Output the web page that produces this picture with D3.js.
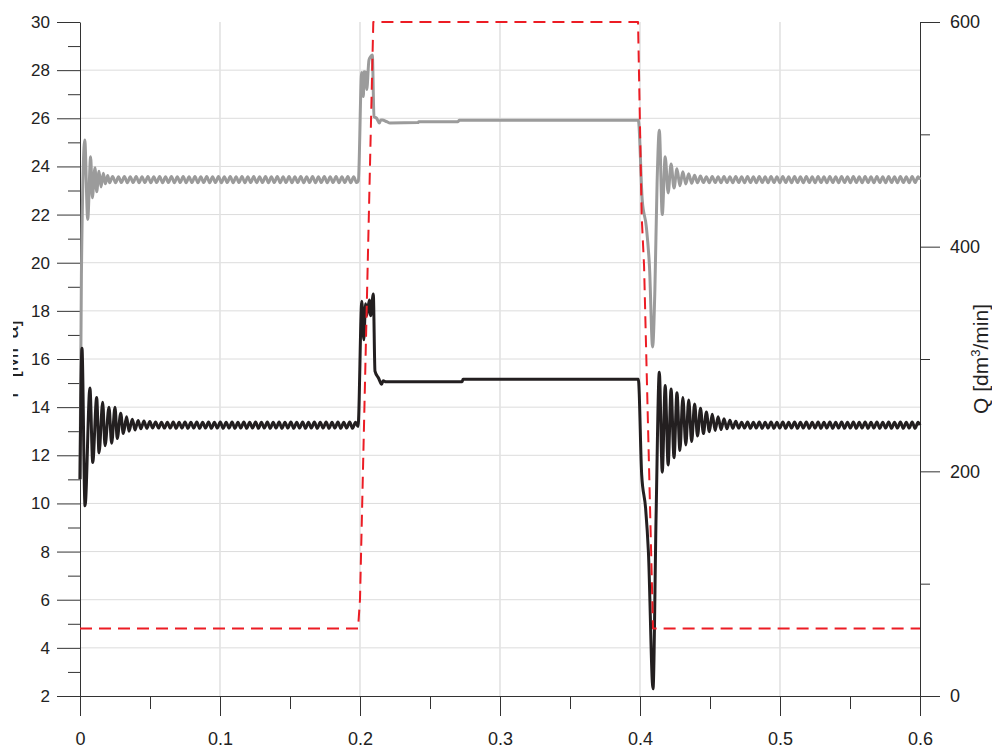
<!DOCTYPE html>
<html>
<head>
<meta charset="utf-8">
<script src="https://cdn.jsdelivr.net/npm/d3@7"></script>
<style>
  body { margin: 0; background: #fff; }
  svg { display: block; }
  .grid line { stroke: #dcdcdc; stroke-width: 1; }
  .grid.vert line { stroke: #e2e2e2; stroke-width: 1.6; }
  .axis path, .axis line { stroke: #333; }
  .axis text { fill: #222; }
  .line { fill: none; stroke-linejoin: round; }
</style>
</head>
<body>
<svg width="992" height="752"></svg>
<script>
// tick values
var tTicks = [0, 0.1, 0.2, 0.3, 0.4, 0.5, 0.6],
    tMinor = [0.05, 0.15, 0.25, 0.35, 0.45, 0.55],
    pTicks = [2, 4, 6, 8, 10, 12, 14, 16, 18, 20, 22, 24, 26, 28, 30],
    pMinor = [3, 5, 7, 9, 11, 13, 15, 17, 19, 21, 23, 25, 27, 29],
    pGrid = [4, 6, 8, 10, 12, 14, 16, 18, 20, 22, 24, 26, 28],
    qTicks = [0, 200, 400, 600],
    qMinor = [100, 300, 500];

// upper pressure (grey), [t s, P MPa]
var pUpper = [
  [0.0000,11.0],[0.0010,19.5],[0.0034,25.1],[0.0055,21.8],[0.0076,24.4],[0.0088,22.7],[0.0107,23.95],
  [0.0119,22.95],[0.0136,23.8],[0.0150,23.15],[0.0167,23.72],[0.0181,23.28],[0.0198,23.62],[0.0212,23.32],
  [0.0233,23.58],[0.0254,23.32],[0.0275,23.57],[0.0296,23.33],[0.0317,23.58],[0.0338,23.32],[0.0359,23.57],[0.0380,23.33],[0.0401,23.58],[0.0422,23.32],
  [0.0443,23.57],[0.0464,23.33],[0.0485,23.58],[0.0506,23.32],[0.0527,23.57],[0.0548,23.33],[0.0569,23.58],[0.0590,23.32],[0.0611,23.57],[0.0632,23.33],
  [0.0653,23.58],[0.0674,23.32],[0.0695,23.57],[0.0716,23.33],[0.0737,23.58],[0.0758,23.32],[0.0779,23.57],[0.0800,23.33],[0.0821,23.58],[0.0842,23.32],
  [0.0863,23.57],[0.0884,23.33],[0.0905,23.58],[0.0926,23.32],[0.0947,23.57],[0.0968,23.33],[0.0989,23.58],[0.1010,23.32],[0.1031,23.57],[0.1052,23.33],
  [0.1073,23.58],[0.1094,23.32],[0.1115,23.57],[0.1136,23.33],[0.1157,23.58],[0.1178,23.32],[0.1199,23.57],[0.1220,23.33],[0.1241,23.58],[0.1262,23.32],
  [0.1283,23.57],[0.1304,23.33],[0.1325,23.58],[0.1346,23.32],[0.1367,23.57],[0.1388,23.33],[0.1409,23.58],[0.1430,23.32],[0.1451,23.57],[0.1472,23.33],
  [0.1493,23.58],[0.1514,23.32],[0.1535,23.57],[0.1556,23.33],[0.1577,23.58],[0.1598,23.32],[0.1619,23.57],[0.1640,23.33],[0.1661,23.58],[0.1682,23.32],
  [0.1703,23.57],[0.1724,23.33],[0.1745,23.58],[0.1766,23.32],[0.1787,23.57],[0.1808,23.33],[0.1829,23.58],[0.1850,23.32],[0.1871,23.57],[0.1892,23.33],
  [0.1913,23.58],[0.1934,23.32],[0.1955,23.57],[0.1976,23.33],
  [0.1988,23.4],[0.2012,27.9],[0.2024,26.9],[0.2029,27.93],[0.2043,27.9],[0.2048,27.2],[0.2064,28.42],[0.2076,28.56],
  [0.2088,28.63],[0.2100,26.07],[0.2119,26.0],[0.2138,25.8],[0.2148,25.93],[0.2159,25.93],[0.2191,25.86],[0.2214,25.8],
  [0.2414,25.82],[0.2420,25.86],[0.2700,25.86],[0.2710,25.92],[0.3988,25.92],
  [0.4016,22.6],[0.4045,21.5],[0.4068,19.8],[0.4090,16.5],[0.4106,18.8],[0.4122,23.3],[0.4138,25.5],[0.4159,22.0],
  [0.4180,24.4],[0.4201,22.9],[0.4222,24.1],[0.4243,23.1],[0.4264,23.9],[0.4285,23.2],[0.4306,23.78],[0.4327,23.27],
  [0.4348,23.7],[0.4369,23.3],[0.4390,23.63],[0.4411,23.32],[0.4432,23.6],
  [0.4453,23.33],[0.4474,23.57],[0.4495,23.32],[0.4516,23.58],[0.4537,23.33],[0.4558,23.57],
  [0.4579,23.32],[0.4600,23.58],[0.4621,23.33],[0.4642,23.57],[0.4663,23.32],[0.4684,23.58],[0.4705,23.33],[0.4726,23.57],[0.4747,23.32],[0.4768,23.58],
  [0.4789,23.33],[0.4810,23.57],[0.4831,23.32],[0.4852,23.58],[0.4873,23.33],[0.4894,23.57],[0.4915,23.32],[0.4936,23.58],[0.4957,23.33],[0.4978,23.57],
  [0.4999,23.32],[0.5020,23.58],[0.5041,23.33],[0.5062,23.57],[0.5083,23.32],[0.5104,23.58],[0.5125,23.33],[0.5146,23.57],[0.5167,23.32],[0.5188,23.58],
  [0.5209,23.33],[0.5230,23.57],[0.5251,23.32],[0.5272,23.58],[0.5293,23.33],[0.5314,23.57],[0.5335,23.32],[0.5356,23.58],[0.5377,23.33],[0.5398,23.57],
  [0.5419,23.32],[0.5440,23.58],[0.5461,23.33],[0.5482,23.57],[0.5503,23.32],[0.5524,23.58],[0.5545,23.33],[0.5566,23.57],[0.5587,23.32],[0.5608,23.58],
  [0.5629,23.33],[0.5650,23.57],[0.5671,23.32],[0.5692,23.58],[0.5713,23.33],[0.5734,23.57],[0.5755,23.32],[0.5776,23.58],[0.5797,23.33],[0.5818,23.57],
  [0.5839,23.32],[0.5860,23.58],[0.5881,23.33],[0.5902,23.57],[0.5923,23.32],[0.5944,23.58],[0.5965,23.33],[0.5986,23.57],[0.6000,23.45]
];

// lower pressure (black), [t s, P MPa]
var pLower = [
  [0.0000,11.0],[0.0014,16.45],[0.0036,9.9],[0.0071,14.8],[0.0091,11.7],[0.0119,14.4],[0.0136,12.1],[0.0162,14.2],
  [0.0179,12.4],[0.0207,14.0],[0.0226,12.5],[0.0250,14.0],[0.0266,12.7],[0.0291,13.75],[0.0309,12.9],[0.0333,13.6],
  [0.0350,13.0],[0.0374,13.5],[0.0393,13.05],[0.0415,13.45],[0.0435,13.1],[0.0457,13.42],[0.0477,13.12],[0.0499,13.4],
  [0.0519,13.13],[0.0540,13.38],[0.0561,13.13],
  [0.0582,13.37],[0.0603,13.13],[0.0624,13.37],[0.0645,13.13],[0.0666,13.38],[0.0687,13.12],[0.0708,13.37],[0.0729,13.13],[0.0750,13.38],[0.0771,13.12],
  [0.0792,13.37],[0.0813,13.13],[0.0834,13.38],[0.0855,13.12],[0.0876,13.37],[0.0897,13.13],[0.0918,13.38],[0.0939,13.12],[0.0960,13.37],[0.0981,13.13],
  [0.1002,13.38],[0.1023,13.12],[0.1044,13.37],[0.1065,13.13],[0.1086,13.38],[0.1107,13.12],[0.1128,13.37],[0.1149,13.13],[0.1170,13.38],[0.1191,13.12],
  [0.1212,13.37],[0.1233,13.13],[0.1254,13.38],[0.1275,13.12],[0.1296,13.37],[0.1317,13.13],[0.1338,13.38],[0.1359,13.12],[0.1380,13.37],[0.1401,13.13],
  [0.1422,13.38],[0.1443,13.12],[0.1464,13.37],[0.1485,13.13],[0.1506,13.38],[0.1527,13.12],[0.1548,13.37],[0.1569,13.13],[0.1590,13.38],[0.1611,13.12],
  [0.1632,13.37],[0.1653,13.13],[0.1674,13.38],[0.1695,13.12],[0.1716,13.37],[0.1737,13.13],[0.1758,13.38],[0.1779,13.12],[0.1800,13.37],[0.1821,13.13],
  [0.1842,13.38],[0.1863,13.12],[0.1884,13.37],[0.1905,13.13],[0.1926,13.38],[0.1947,13.12],[0.1968,13.37],
  [0.1986,13.2],[0.2013,18.4],[0.2027,16.8],[0.2040,18.3],[0.2048,17.8],[0.2067,18.45],[0.2076,17.8],[0.2095,18.7],
  [0.2107,15.5],[0.2133,15.2],[0.2155,14.95],[0.2165,15.1],[0.2185,15.05],[0.2730,15.06],[0.2736,15.16],[0.3988,15.16],
  [0.4012,11.2],[0.4040,9.8],[0.4060,8.0],[0.4093,2.3],[0.4115,9.5],[0.4138,15.45],[0.4159,11.3],[0.4180,14.9],
  [0.4201,11.6],[0.4222,14.75],[0.4243,11.9],[0.4264,14.6],[0.4285,12.2],[0.4306,14.4],[0.4327,12.43],[0.4348,14.3],
  [0.4369,12.57],[0.4390,14.13],[0.4411,12.8],[0.4432,13.95],[0.4453,12.9],[0.4474,13.8],[0.4495,12.98],[0.4516,13.7],
  [0.4537,13.03],[0.4558,13.6],[0.4579,13.07],[0.4600,13.52],[0.4621,13.1],[0.4642,13.46],[0.4663,13.12],[0.4684,13.41],[0.4705,13.13],
  [0.4726,13.37],[0.4747,13.13],[0.4768,13.38],[0.4789,13.12],[0.4810,13.37],[0.4831,13.13],[0.4852,13.38],[0.4873,13.12],[0.4894,13.37],[0.4915,13.13],
  [0.4936,13.38],[0.4957,13.12],[0.4978,13.37],[0.4999,13.13],[0.5020,13.38],[0.5041,13.12],[0.5062,13.37],[0.5083,13.13],[0.5104,13.38],[0.5125,13.12],
  [0.5146,13.37],[0.5167,13.13],[0.5188,13.38],[0.5209,13.12],[0.5230,13.37],[0.5251,13.13],[0.5272,13.38],[0.5293,13.12],[0.5314,13.37],[0.5335,13.13],
  [0.5356,13.38],[0.5377,13.12],[0.5398,13.37],[0.5419,13.13],[0.5440,13.38],[0.5461,13.12],[0.5482,13.37],[0.5503,13.13],[0.5524,13.38],[0.5545,13.12],
  [0.5566,13.37],[0.5587,13.13],[0.5608,13.38],[0.5629,13.12],[0.5650,13.37],[0.5671,13.13],[0.5692,13.38],[0.5713,13.12],[0.5734,13.37],[0.5755,13.13],
  [0.5776,13.38],[0.5797,13.12],[0.5818,13.37],[0.5839,13.13],[0.5860,13.38],[0.5881,13.12],[0.5902,13.37],[0.5923,13.13],[0.5944,13.38],[0.5965,13.12],
  [0.5986,13.37],[0.6000,13.25]
];

// flow rate (red dashed, right axis), [t s, Q dm3/min]
var flowQ = [
  [0.0000,60],[0.1986,60],[0.2000,86],[0.2095,600],[0.3986,600],
  [0.4012,427],[0.4029,383],[0.4093,60],[0.6000,60]
];

var svg = d3.select("svg"),
    margin = {top: 22, right: 72, bottom: 56, left: 80},
    width = +svg.attr("width") - margin.left - margin.right,
    height = +svg.attr("height") - margin.top - margin.bottom,
    g = svg.append("g").attr("transform", "translate(" + margin.left + "," + margin.top + ")");

var x = d3.scaleLinear().domain([0, 0.6]).range([0, width]),
    y = d3.scaleLinear().domain([2, 30]).range([height, 0]),
    yQ = d3.scaleLinear().domain([0, 600]).range([height, 0]);

var font = "'Liberation Sans', Arial, sans-serif",
    narrow = "'Liberation Sans Narrow', 'Arial Narrow', 'Liberation Sans', sans-serif";

// grid
g.append("g").attr("class", "grid")
  .selectAll("line").data(pGrid).enter().append("line")
    .attr("x1", 0).attr("x2", width)
    .attr("y1", function(d) { return y(d); })
    .attr("y2", function(d) { return y(d); });

g.append("g").attr("class", "grid vert")
  .selectAll("line").data(tTicks.slice(1, -1)).enter().append("line")
    .attr("y1", 0).attr("y2", height)
    .attr("x1", function(d) { return x(d); })
    .attr("x2", function(d) { return x(d); });

// left axis
g.append("g").attr("class", "axis")
    .call(d3.axisLeft(y).tickValues(pMinor).tickSize(12).tickSizeOuter(0).tickFormat(""))
    .select(".domain").remove();
g.append("g").attr("class", "axis")
    .call(d3.axisLeft(y).tickValues(pTicks).tickSize(23).tickSizeOuter(0).tickPadding(7))
    .attr("font-family", font).attr("font-size", 17);

// bottom axis
g.append("g").attr("class", "axis")
    .attr("transform", "translate(0," + height + ")")
    .call(d3.axisBottom(x).tickValues(tMinor).tickSize(13).tickSizeOuter(0).tickFormat(""))
    .select(".domain").remove();
g.append("g").attr("class", "axis")
    .attr("transform", "translate(0," + height + ")")
    .call(d3.axisBottom(x).tickValues(tTicks).tickSize(20).tickSizeOuter(0).tickPadding(16)
      .tickFormat(function(d) { return String(d); }))
    .attr("font-family", narrow).attr("font-size", 18);

// right axis
g.append("g").attr("class", "axis")
    .attr("transform", "translate(" + width + ",0)")
    .call(d3.axisRight(yQ).tickValues(qMinor).tickSize(10).tickSizeOuter(0).tickFormat(""))
    .select(".domain").remove();
g.append("g").attr("class", "axis")
    .attr("transform", "translate(" + width + ",0)")
    .call(d3.axisRight(yQ).tickValues(qTicks).tickSize(20).tickSizeOuter(0).tickPadding(10))
    .attr("font-family", font).attr("font-size", 18);

// axis titles (left one is cut at the page edge, as in the source figure)
svg.append("clipPath").attr("id", "leftclip")
  .append("rect").attr("x", 13).attr("y", 0).attr("width", 60).attr("height", 752);

svg.append("g").attr("clip-path", "url(#leftclip)")
  .append("text")
    .attr("transform", "translate(18," + (margin.top + height / 2) + ") rotate(-90)")
    .attr("text-anchor", "middle")
    .attr("font-family", font).attr("font-size", 22).attr("fill", "#222")
    .text("P [MPa]");

var qLabel = svg.append("text")
    .attr("transform", "translate(988," + (margin.top + height / 2) + ") rotate(-90)")
    .attr("text-anchor", "middle")
    .attr("font-family", font).attr("font-size", 21).attr("fill", "#222");
qLabel.append("tspan").text("Q [dm");
qLabel.append("tspan").attr("font-size", 13).attr("dy", -8).text("3");
qLabel.append("tspan").attr("dy", 8).text("/min]");

// series
var line = d3.line()
    .curve(d3.curveMonotoneX)
    .x(function(d) { return x(d[0]); })
    .y(function(d) { return y(d[1]); });

var lineQ = d3.line()
    .x(function(d) { return x(d[0]); })
    .y(function(d) { return yQ(d[1]); });

g.append("path").datum(pUpper)
    .attr("class", "line")
    .attr("stroke", "#9b9b9b").attr("stroke-width", 3)
    .attr("d", line);

g.append("path").datum(pLower)
    .attr("class", "line")
    .attr("stroke", "#231f20").attr("stroke-width", 3)
    .attr("d", line);

g.append("path").datum(flowQ)
    .attr("class", "line")
    .attr("stroke", "#ec1c24").attr("stroke-width", 2)
    .attr("stroke-dasharray", "12,7")
    .attr("d", lineQ);
</script>
</body>
</html>
